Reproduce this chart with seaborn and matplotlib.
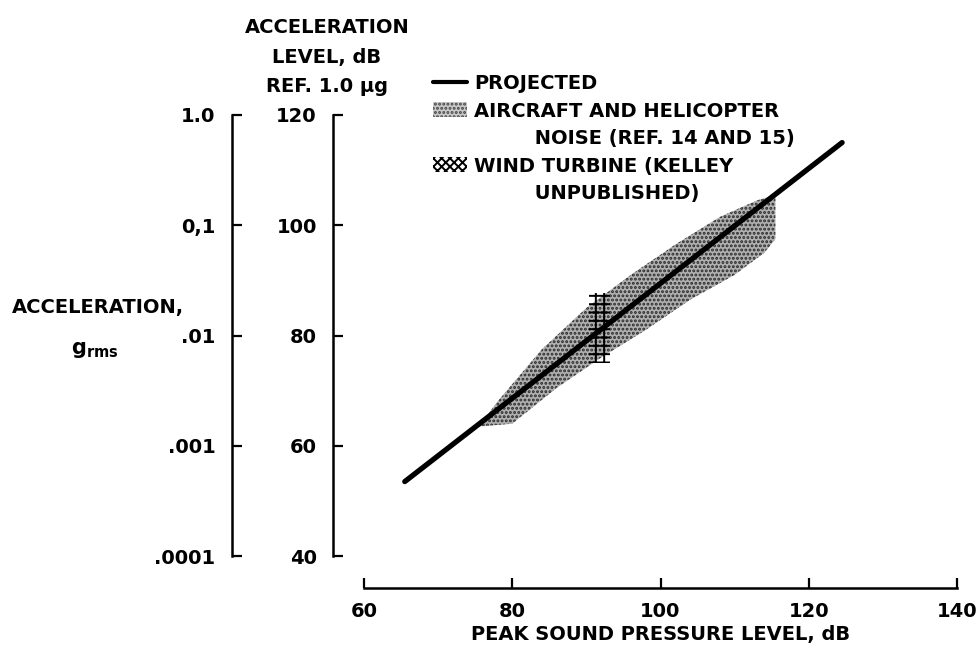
import matplotlib
matplotlib.use("Agg")
import matplotlib.pyplot as plt
import matplotlib.patches as mpatches
from matplotlib.lines import Line2D
import seaborn as sns

# ── data ─────────────────────────────────────────────────────────────────────
PROJ_X = [65.5, 124.5]          # peak SPL, dB
PROJ_Y = [53.5, 115.0]          # acceleration level, dB re 1 ug

BAND_UPPER_X = [75.5, 78.0, 84.0, 90.0, 96.0, 102.0, 108.0, 113.0, 115.5]
BAND_UPPER_Y = [63.5, 68.0, 77.5, 85.0, 91.0, 96.5, 101.5, 104.5, 105.5]
BAND_LOWER_X = [75.5, 80.0, 86.0, 92.0, 98.0, 104.0, 110.0, 114.0, 115.5]
BAND_LOWER_Y = [63.5, 64.0, 70.5, 76.0, 81.0, 86.5, 91.0, 95.0, 97.5]

TURB_X = [90.3, 93.2]
TURB_LOW = [75.0, 75.0]
TURB_HIGH = [87.7, 87.7]

X_TICKS = [60, 80, 100, 120, 140]
DB_TICKS = [40, 60, 80, 100, 120]
G_TICKS = [1e-4, 1e-3, 1e-2, 1e-1, 1.0]
G_LABELS = [".0001", ".001", ".01", "0,1", "1.0"]

# ── style ────────────────────────────────────────────────────────────────────
sns.set_style("ticks")
plt.rcParams["font.family"] = ["DejaVu Sans"]
plt.rcParams["font.weight"] = "bold"
plt.rcParams["axes.labelweight"] = "bold"
plt.rcParams["text.color"] = "black"
plt.rcParams["axes.labelcolor"] = "black"
plt.rcParams["hatch.linewidth"] = 1.4
FS = 14

W, H = 977, 652
fig = plt.figure(figsize=(W / 100, H / 100), dpi=100)
rect = [364 / W, 1 - 556 / H, (957 - 364) / W, (556 - 115) / H]
ax = fig.add_axes(rect)

# stippled aircraft/helicopter band
band_x = BAND_UPPER_X + BAND_LOWER_X[::-1]
band_y = BAND_UPPER_Y + BAND_LOWER_Y[::-1]
ax.fill(band_x, band_y, facecolor="#b0b0b0", edgecolor="#2a2a2a",
        hatch="....", linewidth=0, zorder=2)

# cross-hatched wind turbine patch
ax.fill_between(TURB_X, TURB_LOW, TURB_HIGH, facecolor="none",
                edgecolor="black", hatch="++", linewidth=0, zorder=3)

sns.lineplot(x=PROJ_X, y=PROJ_Y, ax=ax, color="black", linewidth=3.8, zorder=4)

ax.set_xlim(60, 140)
ax.set_ylim(40, 120)
ax.set_xticks(X_TICKS)
ax.set_yticks(DB_TICKS)
ax.tick_params(direction="in", length=7, width=1.6, labelsize=FS, pad=12, colors="black",
               bottom=True, left=True)
ax.tick_params(axis="x", pad=10)
for s in ("top", "right"):
    ax.spines[s].set_visible(False)
ax.spines["left"].set_position(("outward", 22))
ax.spines["bottom"].set_position(("outward", 23))
for s in ("left", "bottom"):
    ax.spines[s].set_linewidth(1.8)
    ax.spines[s].set_color("black")
ax.set_xlabel("PEAK SOUND PRESSURE LEVEL, dB", fontsize=FS, labelpad=3)
ax.set_ylabel("")

# second scale: acceleration in g rms
axg = fig.add_axes(rect)
axg.patch.set_visible(False)
axg.set_yscale("log")
axg.set_ylim(1e-4, 1.0)
axg.set_yticks(G_TICKS)
axg.set_yticklabels(G_LABELS)
axg.minorticks_off()
axg.set_xticks([])
for s in ("top", "right", "bottom"):
    axg.spines[s].set_visible(False)
axg.spines["left"].set_position(("outward", 95))
axg.spines["left"].set_linewidth(1.8)
axg.spines["left"].set_color("black")
axg.tick_params(axis="y", direction="in", length=7, width=1.6, labelsize=FS, pad=12,
                colors="black", left=True)

# axis titles
fig.text(327 / W, 1 - 57 / H, "ACCELERATION\nLEVEL, dB\nREF. 1.0 \u00b5g",
         ha="center", va="center", fontsize=FS, linespacing=1.7)
fig.text(98 / W, 1 - 308 / H, "ACCELERATION,", ha="center", va="center", fontsize=FS)
fig.text(95 / W, 1 - 350 / H, "$\\mathregular{g_{rms}}$", ha="center", va="center",
         fontsize=FS + 1)

# legend
blank = mpatches.Patch(facecolor="none", edgecolor="none")
handles = [
    Line2D([], [], color="black", linewidth=3),
    mpatches.Patch(facecolor="#c8c8c8", edgecolor="#444444", hatch="....", linewidth=0),
    blank,
    mpatches.Patch(facecolor="white", edgecolor="black", hatch="xxxx", linewidth=0),
    blank,
]
labels = [
    "PROJECTED",
    "AIRCRAFT AND HELICOPTER",
    "         NOISE (REF. 14 AND 15)",
    "WIND TURBINE (KELLEY",
    "         UNPUBLISHED)",
]
fig.legend(handles, labels, loc="upper left", bbox_to_anchor=(433 / W, 1 - 74 / H),
           frameon=False, fontsize=FS, handlelength=1.75, handleheight=0.8,
           handletextpad=0.35, labelspacing=0.44, borderpad=0, borderaxespad=0)

fig.savefig("out.png", dpi=100)
